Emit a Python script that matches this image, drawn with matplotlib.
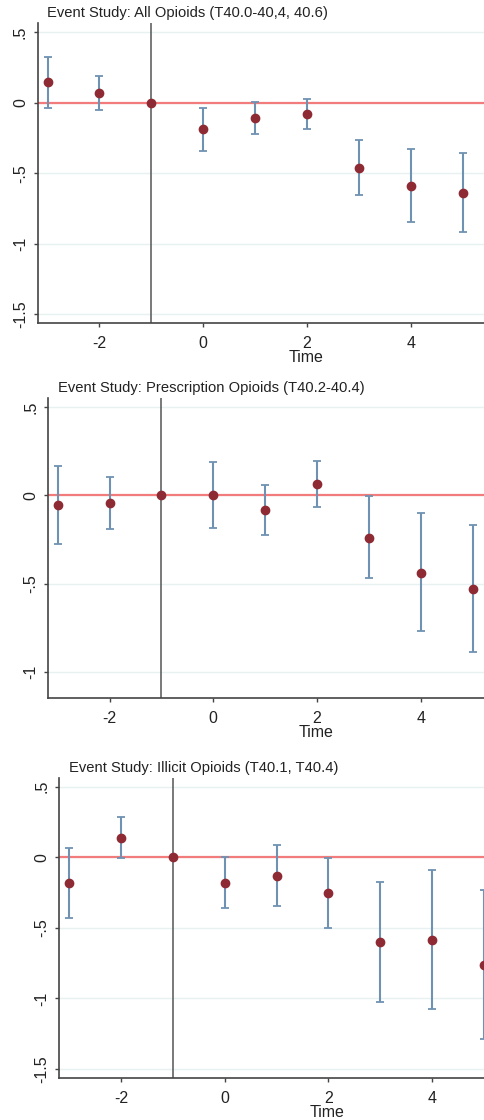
import numpy as np
import matplotlib
matplotlib.use("Agg")
import matplotlib.pyplot as plt

plt.rcParams['font.family'] = ['Liberation Sans', 'DejaVu Sans']

# event time
periods = [-3, -2, -1, 0, 1, 2, 3, 4, 5]

# panel 1: all opioids
all_coef = [0.144, 0.068, 0.0, -0.189, -0.109, -0.078, -0.461, -0.589, -0.638]
all_lo = [-0.035, -0.050, 0.0, -0.340, -0.223, -0.187, -0.652, -0.847, -0.918]
all_hi = [0.323, 0.191, 0.0, -0.035, 0.004, 0.030, -0.267, -0.331, -0.355]

# panel 2: prescription opioids
rx_coef = [-0.055, -0.043, 0.0, 0.002, -0.083, 0.062, -0.238, -0.436, -0.528]
rx_lo = [-0.277, -0.189, 0.0, -0.183, -0.221, -0.068, -0.469, -0.765, -0.886]
rx_hi = [0.168, 0.104, 0.0, 0.189, 0.058, 0.194, -0.004, -0.102, -0.166]

# panel 3: illicit opioids
ill_coef = [-0.184, 0.139, 0.0, -0.182, -0.135, -0.255, -0.602, -0.585, -0.760]
ill_lo = [-0.434, -0.007, 0.0, -0.363, -0.349, -0.498, -1.027, -1.074, -1.289]
ill_hi = [0.066, 0.288, 0.0, 0.000, 0.083, -0.005, -0.175, -0.092, -0.231]

titles = ["Event Study: All Opioids (T40.0-40,4, 40.6)",
          "Event Study: Prescription Opioids (T40.2-40.4)",
          "Event Study: Illicit Opioids (T40.1, T40.4)"]
yticks_all = [0.5, 0, -0.5, -1, -1.5]
ytick_labels_all = ['.5', '0', '-.5', '-1', '-1.5']
yticks_rx = [0.5, 0, -0.5, -1]
ytick_labels_rx = ['.5', '0', '-.5', '-1']
xticks = [-2, 0, 2, 4]

W, H = 484, 1120
fig = plt.figure(figsize=(W / 100, H / 100), dpi=100)
fig.patch.set_facecolor('white')

# (left px, top px, bottom px, xlim, ylim, xlabel center px)
panels = [
    (37.7, 23.0, 323.0, (-3.19, 5.41), (-1.562, 0.566), 306.0,
     all_coef, all_lo, all_hi, yticks_all, ytick_labels_all),
    (48.3, 398.3, 698.3, (-3.18, 5.22), (-1.147, 0.549), 316.0,
     rx_coef, rx_lo, rx_hi, yticks_rx, ytick_labels_rx),
    (59.3, 778.3, 1078.3, (-3.187, 5.0), (-1.566, 0.559), 326.7,
     ill_coef, ill_lo, ill_hi, yticks_all, ytick_labels_all),
]

axis_col = '#444444'
for (lpx, tpx, bpx, xl, yl, labx, coef, lo, hi, yt, ytl), title in zip(panels, titles):
    ax = fig.add_axes([lpx / W, 1 - bpx / H, (W - lpx) / W, (bpx - tpx) / H])
    ax.set_xlim(*xl)
    ax.set_ylim(*yl)

    for y in yt:
        ax.axhline(y, color='#E8F1F2', lw=1.0, zorder=0)
    ax.axhline(0, color='#F27B7B', lw=1.6, zorder=2)
    ax.axvline(-1, color='#555555', lw=1.1, zorder=2)

    coef = np.array(coef)
    yerr = [coef - np.array(lo), np.array(hi) - coef]
    ax.errorbar(periods, coef, yerr=yerr, fmt='none', ecolor='#7092B2',
                elinewidth=1.5, capsize=3, capthick=1.3, zorder=3)
    ax.plot(periods, coef, 'o', color='#8E2A33', ms=6, zorder=4)

    for s in ['top', 'right']:
        ax.spines[s].set_visible(False)
    for s in ['left', 'bottom']:
        ax.spines[s].set_color(axis_col)
        ax.spines[s].set_linewidth(1.2)

    ax.set_xticks(xticks)
    ax.set_xticklabels([str(x) for x in xticks])
    ax.set_yticks(yt)
    ax.set_yticklabels(ytl, rotation=90, va='center')
    ax.tick_params(axis='both', length=3, width=1.0, color=axis_col,
                   labelsize=11.5, labelcolor='#222222')
    ax.tick_params(axis='x', pad=6)
    ax.tick_params(axis='y', pad=4)

    ax.set_xlabel('Time', fontsize=11.5, color='#222222', va='center')
    ax.xaxis.set_label_coords((labx - lpx) / (W - lpx), -34.0 / (bpx - tpx))

    ax.annotate(title, xy=(0, 1), xycoords='axes fraction',
                xytext=(9.5, 10), textcoords='offset pixels',
                ha='left', va='center', fontsize=10.65, color='#222222')

fig.savefig('out.png', dpi=100, facecolor='white')
